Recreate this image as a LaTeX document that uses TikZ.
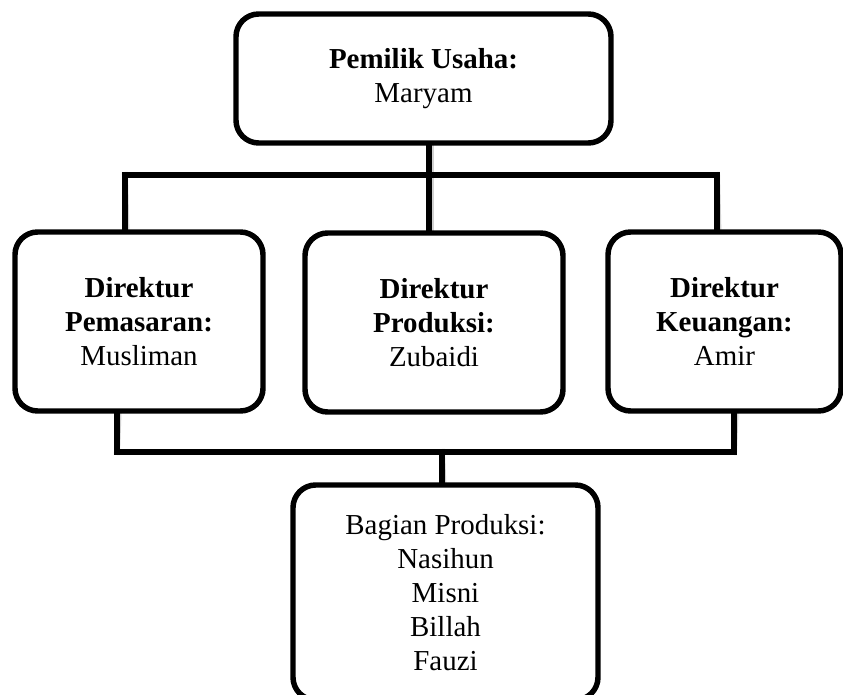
\documentclass[tikz,border=0pt]{standalone}
\usepackage{fontspec}
\setmainfont{Liberation Serif}
\begin{document}
\begin{tikzpicture}[x=0.75pt,y=-0.75pt,
  orgbox/.style={draw=black, line width=4.1pt, rounded corners=17pt, fill=white,
    align=center, inner sep=0pt,
    font=\fontsize{21.7}{25.5}\selectfont},
  link/.style={line width=4.3pt, line cap=rect},
  linkshadow/.style={line width=4.5pt, draw=black!18, line cap=rect, shift={(1.5,2.5)}}]
\useasboundingbox (0,0) rectangle (843,695);
\clip (0,0) rectangle (843,695);

% junction points of the connectors
\coordinate (upbar)  at (429,175);
\coordinate (upL)    at (125,175);
\coordinate (upR)    at (717,175);
\coordinate (lowbar) at (442,452);
\coordinate (lowL)   at (117,452);
\coordinate (lowR)   at (734,452);

% connector shadows
\foreach \a/\b in {upL/upR, lowL/lowR}
  \draw[linkshadow] (\a) -- (\b);
\draw[linkshadow] (429,143) -- (429,233);
\draw[linkshadow] (upL) -- (125,232);
\draw[linkshadow] (upR) -- (717,232);
\draw[linkshadow] (lowL) -- (117,411);
\draw[linkshadow] (lowR) -- (734,411);
\draw[linkshadow] (lowbar) -- (442,485);

% boxes
\node[orgbox, minimum width=281.25pt, minimum height=96.75pt] (owner) at (423.5,78.5)
  {\textbf{Pemilik Usaha:}\\Maryam};
\node[orgbox, minimum width=186pt, minimum height=134.25pt] (mkt) at (139,321.5)
  {\textbf{Direktur}\\\textbf{Pemasaran:}\\Musliman};
\node[orgbox, minimum width=193.5pt, minimum height=134.25pt] (prod) at (434,322.5)
  {\textbf{Direktur}\\\textbf{Produksi:}\\Zubaidi};
\node[orgbox, minimum width=174.75pt, minimum height=134.25pt] (fin) at (724.5,321.5)
  {\textbf{Direktur}\\\textbf{Keuangan:}\\Amir};
\node[orgbox, minimum width=228.75pt, minimum height=161.25pt] (staff) at (445.5,592.5)
  {Bagian Produksi:\\Nasihun\\Misni\\Billah\\Fauzi};

% upper connectors
\draw[link] (owner.south -| upbar) -- (prod.north -| upbar);
\draw[link] (upL) -- (upR);
\draw[link] (upL) -- (mkt.north -| upL);
\draw[link] (upR) -- (fin.north -| upR);

% lower connectors
\draw[link] (mkt.south -| lowL) -- (lowL) -- (lowR) -- (fin.south -| lowR);
\draw[link] (lowbar) -- (staff.north -| lowbar);
\end{tikzpicture}
\end{document}
